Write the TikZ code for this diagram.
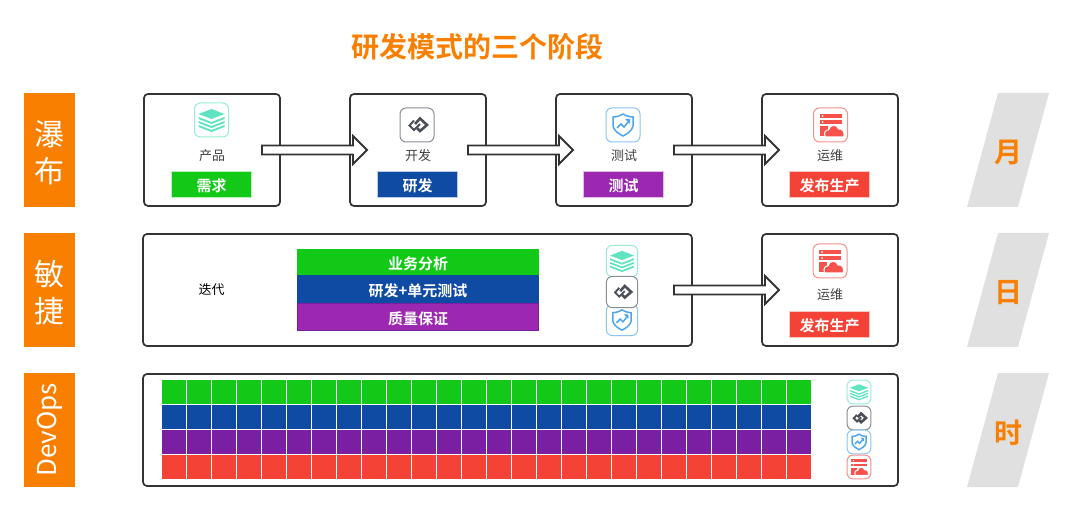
\documentclass[tikz,border=0pt]{standalone}
\usepackage{fontspec}
\setmainfont{Noto Sans CJK SC}[BoldFont={Noto Sans CJK SC Bold}]
\usetikzlibrary{calc}
\definecolor{stageorange}{HTML}{F97F00}
\definecolor{stagegray}{HTML}{E0E0E0}
\definecolor{framedark}{HTML}{333333}
\definecolor{reqgreen}{HTML}{13C918}
\definecolor{devblue}{HTML}{0F4BA3}
\definecolor{testpurple}{HTML}{9C27B0}
\definecolor{gridpurple}{HTML}{7B1FA2}
\definecolor{opsred}{HTML}{F44336}
\definecolor{iconmint}{HTML}{5FE3C0}
\definecolor{iconslate}{HTML}{4A4F5A}
\definecolor{iconsky}{HTML}{4DA6EF}
\definecolor{iconred}{HTML}{F4524A}
\newcommand{\icontile}[1]{\draw[#1!65,line width=1pt,fill=white,rounded corners=6pt] (-17,-17) rectangle (17,17);}
\tikzset{
  stagebox/.style={draw=framedark,line width=1.7pt,rounded corners=4pt,fill=white,minimum width=136pt,minimum height=112pt,inner sep=0pt},
  sidebox/.style={fill=stageorange,minimum width=51pt,minimum height=114pt,inner sep=0pt},
  sidetext/.style={text=white,font=\fontsize{30}{35}\selectfont,inner sep=0pt,align=center},
  periodtext/.style={text=stageorange,font=\fontsize{28}{28}\selectfont\bfseries,inner sep=0pt},
  steptext/.style={text=black!75,font=\fontsize{13}{13}\selectfont,inner sep=0pt},
  tagbar/.style={fill=#1,draw=#1!30,line width=1pt,text=white,font=\fontsize{15}{15}\selectfont\bfseries,minimum width=80pt,minimum height=26pt,inner sep=0pt,text height=15pt,text depth=0pt},
  laybar/.style={fill=#1,text=white,font=\fontsize{15}{15}\selectfont\bfseries,minimum width=242pt,inner sep=0pt,text height=15pt,text depth=0pt},
  blockarrow/.style={draw=framedark,line width=1.8pt,fill=white,miter limit=4,to path={
    let \p1=(\tikztostart),\p2=(\tikztotarget) in
    (\x1,\y1+4.5pt) -- (\x2-14pt,\y1+4.5pt) -- (\x2-14pt,\y1+14pt) -- (\x2,\y1)
    -- (\x2-14pt,\y1-14pt) -- (\x2-14pt,\y1-4.5pt) -- (\x1,\y1-4.5pt) -- cycle}},
  pics/stackicon/.style={code={
    \icontile{iconmint}
    \fill[iconmint] (0,-11) -- (13,-6) -- (0,-1) -- (-13,-6) -- cycle;
    \foreach \d in {0,4,8}
      \fill[iconmint] (-13,-3+\d) -- (0,2+\d) -- (13,-3+\d) -- (13,-1+\d) -- (0,4+\d) -- (-13,-1+\d) -- cycle;}},
  pics/linkicon/.style={code={
    \icontile{iconslate}
    \draw[iconslate,line width=1.9pt] (-3,-4.5) -- (-7.5,0.5) -- (-3,5) -- (3,-1);
    \draw[iconslate,line width=2.6pt] (-2,-1) -- (3,-6.5) -- (10,0) -- (3,6) -- (0,3);}},
  pics/shieldicon/.style={code={
    \icontile{iconsky}
    \draw[iconsky,line width=1.5pt] (-10,-8) .. controls (-5,-8) and (-2,-10) .. (0,-11) .. controls (2,-10) and (5,-8) .. (10,-8)
      -- (10,1) .. controls (9,6) and (4,9) .. (0,11) .. controls (-4,9) and (-9,6) .. (-10,1) -- cycle;
    \draw[iconsky,line width=1.5pt] (-6,3) -- (-2,-1) -- (1,2) -- (6,-4);
    \fill[iconsky] (7,-6) -- (7,-1) -- (2,-6) -- cycle;}},
  pics/servericon/.style={code={
    \icontile{iconred}
    \fill[iconred] (-11,-11) rectangle (11,-7);
    \fill[iconred] (-11,-5) rectangle (11,-1);
    \fill[iconred] (-11,1) rectangle (-3,11);
    \fill[white] (-8,-9) circle (1);
    \fill[white] (-8,-3) circle (1);
    \fill[iconred,draw=white,line width=1pt] (-5,12) .. controls (-8,8) and (-4,4) .. (-2,5) .. controls (-1,-1) and (7,-1) .. (8,4) .. controls (12,3) and (15,8) .. (13,12) -- cycle;}},
}
\begin{document}
\begin{tikzpicture}[x=1pt,y=-1pt]
    \useasboundingbox (0,0) rectangle (1073,510);
    \node[text=stageorange,font=\fontsize{28}{28}\selectfont\bfseries,inner sep=0pt] (title) at (477,47) {研发模式的三个阶段};

    % left column
    \node[sidebox] (waterfall) at (49.5,150) {};
    \node[sidetext] (waterfalltext) at (49.5,152.5) {瀑\\[2pt]布};
    \node[sidebox] (agile) at (49.5,290) {};
    \node[sidetext] (agiletext) at (49.5,292.5) {敏\\[2pt]捷};
    \node[sidebox] (devops) at (49.5,430) {};
    \node[sidetext,font=\fontsize{26}{26}\selectfont,rotate=90] (devopstext) at (49.5,430) {DevOps};

    % right column
    \foreach \yc/\nm/\txt in {150/month/月,290/day/日,430/hour/时} {
        \fill[stagegray] (998,\yc-57) -- (1049,\yc-57) -- (1018,\yc+57) -- (967,\yc+57) -- cycle;
        \node[periodtext] (\nm) at (1008,\yc+3) {\txt};
    }

    % first row
    \node[stagebox] (prod) at (212,150) {};
    \node[stagebox] (dev) at (418,150) {};
    \node[stagebox] (test) at (624,150) {};
    \node[stagebox] (ops) at (830,150) {};
    \pic at (211.5,120) {stackicon};
    \pic at (417,125) {linkicon};
    \pic at (623,125) {shieldicon};
    \pic at (830.5,125) {servericon};
    \node[steptext] (prodtext) at (212,156) {产品};
    \node[steptext] (devtext) at (418,156) {开发};
    \node[steptext] (testtext) at (624,156) {测试};
    \node[steptext] (opstext) at (830,156) {运维};
    \node[tagbar=reqgreen] (req) at (211.5,184.5) {需求};
    \node[tagbar=devblue] (code) at (417.5,184.5) {研发};
    \node[tagbar=testpurple] (check) at (623.5,184.5) {测试};
    \node[tagbar=opsred] (release) at (829.5,184.5) {发布生产};
    \coordinate (prodout) at (262,150);
    \coordinate (devin) at (367,150);
    \coordinate (devout) at (468,150);
    \coordinate (testin) at (573,150);
    \coordinate (testout) at (674,150);
    \coordinate (opsin) at (779,150);
    \draw[blockarrow] (prodout) to (devin);
    \draw[blockarrow] (devout) to (testin);
    \draw[blockarrow] (testout) to (opsin);

    % second row
    \node[stagebox,minimum width=549pt] (iter) at (417.5,290) {};
    \node[stagebox] (opstwo) at (830,290) {};
    \node[inner sep=0pt,font=\fontsize{13}{13}\selectfont] (itertext) at (211.5,290) {迭代};
    \node[laybar=reqgreen,minimum height=26pt] (biz) at (418,262) {业务分析};
    \node[laybar=devblue,minimum height=28pt] (unit) at (418,289) {研发+单元测试};
    \node[laybar=testpurple,draw=gridpurple,line width=1pt,minimum width=241pt,minimum height=27pt] (qa) at (418,317) {质量保证};
    \pic[scale=0.92] at (622,320) {shieldicon};
    \pic[scale=0.92] at (622,261) {stackicon};
    \pic[scale=0.92] at (622,292) {linkicon};
    \pic at (830,261) {servericon};
    \node[steptext] (opstwotext) at (830,295) {运维};
    \node[tagbar=opsred] (releasetwo) at (829.5,324.5) {发布生产};
    \coordinate (iterout) at (674,290);
    \coordinate (opstwoin) at (779,290);
    \draw[blockarrow] (iterout) to (opstwoin);

    % third row
    \node[stagebox,minimum width=755pt] (cont) at (520.5,430) {};
    \foreach \r/\col in {0/reqgreen,1/devblue,2/gridpurple,3/opsred}
        \foreach \c in {0,...,25}
            \fill[\col] (162+25*\c,380+25*\r) rectangle +(24,24);
    \pic[scale=0.7] at (859,392) {stackicon};
    \pic[scale=0.7] at (859,418) {linkicon};
    \pic[scale=0.7] at (859,442) {shieldicon};
    \pic[scale=0.7] at (859,467) {servericon};
\end{tikzpicture}
\end{document}
